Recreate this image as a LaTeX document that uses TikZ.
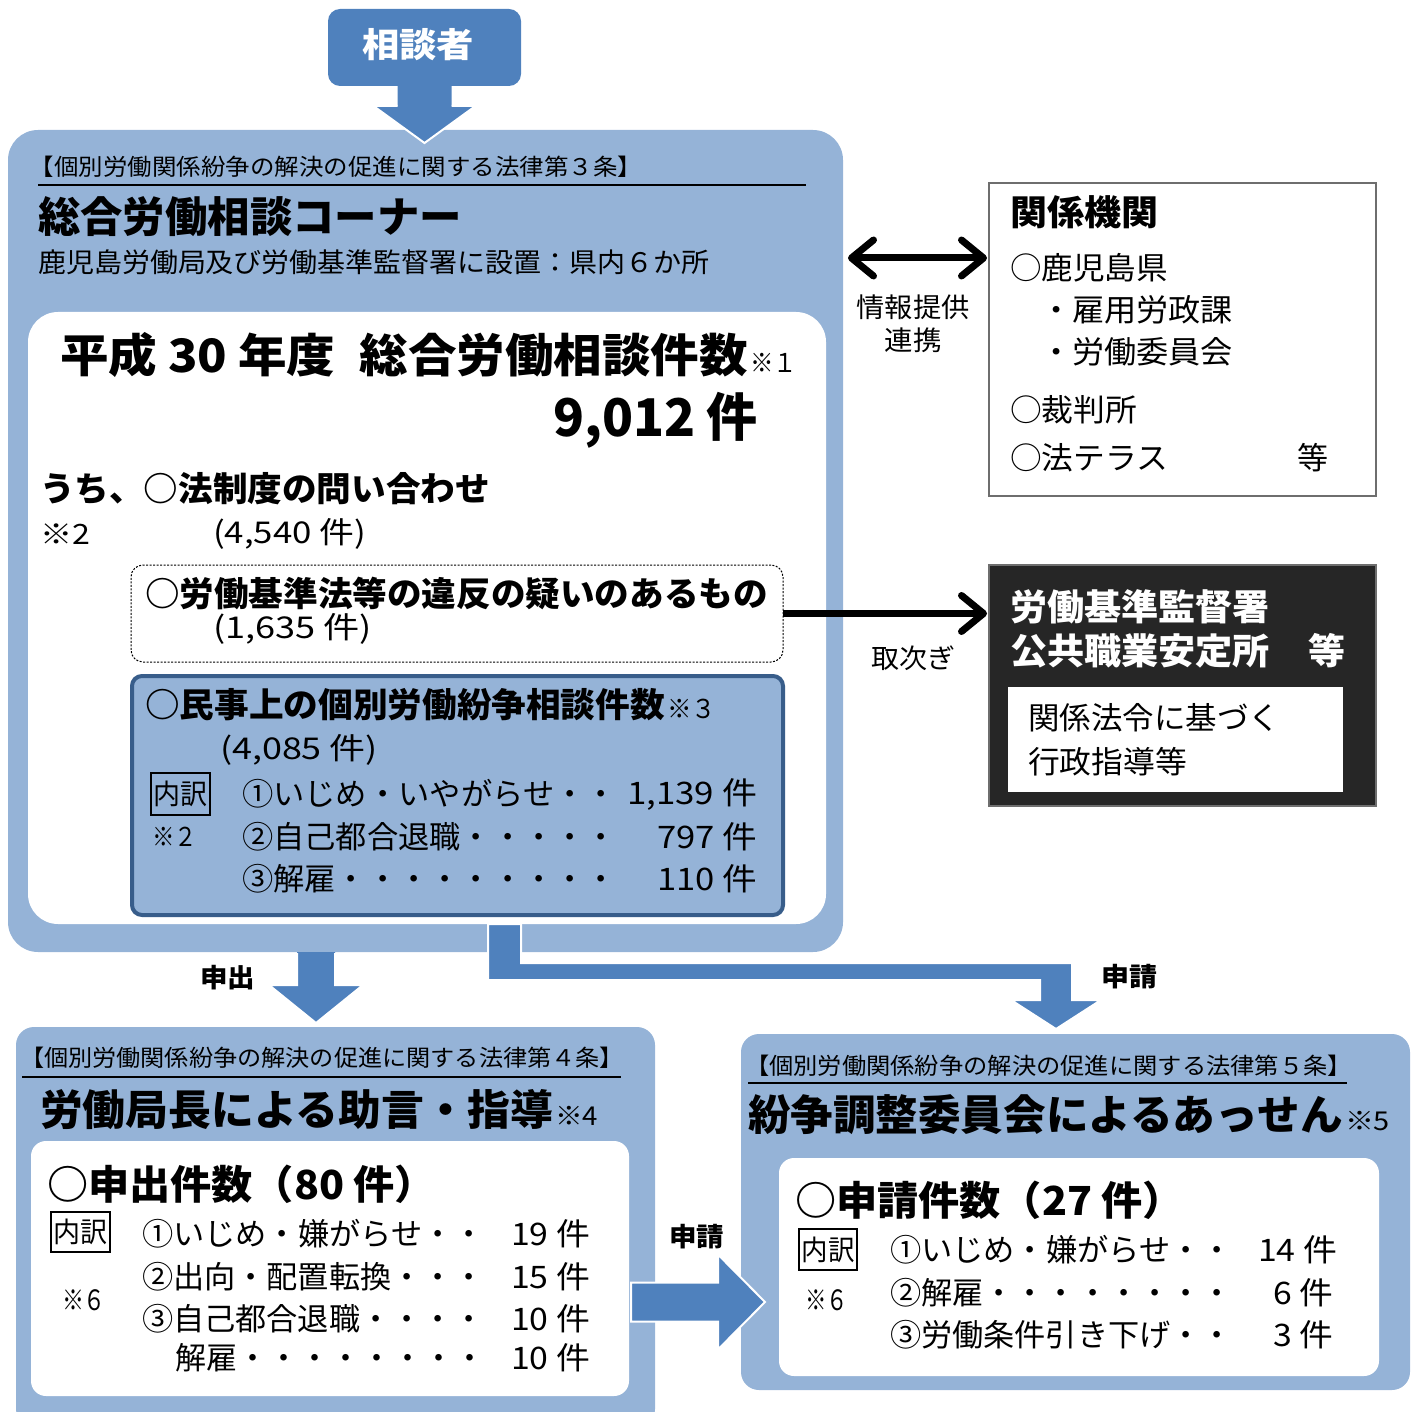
\documentclass[tikz,border=0pt]{standalone}
\usepackage{fontspec}
\setmainfont{Noto Sans CJK JP}
\usepackage{graphicx}
\usetikzlibrary{arrows.meta,calc}
\definecolor{lb}{RGB}{149,179,215}
\definecolor{db}{RGB}{79,129,189}
\definecolor{bb}{RGB}{56,93,138}
\definecolor{dk}{RGB}{38,38,38}
\definecolor{gr}{RGB}{110,110,110}
\newcommand\fs[1]{\fontsize{#1}{#1}\selectfont}
\newcommand\fw[2]{\resizebox{#1pt}{\height}{#2}}
\tikzset{barbtip/.tip={Straight Barb[length=22pt,width=36pt,line width=7pt,round]}}
\begin{document}
\begin{tikzpicture}[x=1pt,y=-1pt,
  t/.style={inner sep=0pt,outer sep=0pt,anchor=west},
  te/.style={inner sep=0pt,outer sep=0pt,anchor=east},
  tc/.style={inner sep=0pt,outer sep=0pt},
  panel/.style={fill=lb,rounded corners=#1,inner sep=0pt,outer sep=0pt},
  wpanel/.style={fill=white,rounded corners=#1,inner sep=0pt,outer sep=0pt},
  ubox/.style={draw=black,line width=2pt,inner sep=0pt,outer sep=0pt},
  uline/.style={line width=2pt,black},
  barrow/.style={fill=db},
  wedge/.style={draw=white,line width=2pt,line join=miter},
  blackarrow/.style={line width=7pt,black}
]
\useasboundingbox (0,0) rectangle (1418,1412);

% ---------- panels ----------
\node[fill=db,rounded corners=12pt,inner sep=0pt,outer sep=0pt,minimum width=193pt,minimum height=77pt] (sodan) at (424.5,47.5) {};
\node[panel=30pt,minimum width=835pt,minimum height=822pt] (box1) at (425.5,541) {};
\node[wpanel=30pt,minimum width=798pt,minimum height=612pt] (inner1) at (427,618) {};
\node[draw=black,line width=1pt,dash pattern=on 2pt off 1.5pt,fill=white,rounded corners=12pt,inner sep=0pt,outer sep=0pt,minimum width=652pt,minimum height=97pt] (dot) at (457,613.5) {};
\node[fill=lb,draw=bb,line width=4pt,rounded corners=10pt,inner sep=0pt,outer sep=0pt,minimum width=651pt,minimum height=239pt] (civil) at (457.5,795.5) {};
\node[ubox,minimum width=59pt,minimum height=42pt] (uw1) at (180.5,794) {\fs{28}\fw{54}{内訳}};

\node[draw=gr,line width=1.5pt,fill=white,inner sep=0pt,outer sep=0pt,minimum width=387pt,minimum height=313pt] (rel) at (1182.5,339.5) {};
\node[draw=gr,line width=1.5pt,fill=dk,inner sep=0pt,outer sep=0pt,minimum width=387pt,minimum height=241pt] (dark) at (1182.5,685.5) {};
\node[fill=white,inner sep=0pt,outer sep=0pt,minimum width=335pt,minimum height=105pt] (darkin) at (1175.5,739.5) {};

\node[panel=18pt,minimum width=639pt,minimum height=400pt] (box2) at (335.5,1227) {};
\node[wpanel=15pt,minimum width=598pt,minimum height=255pt] (inner2) at (330,1268.5) {};
\node[ubox,minimum width=59pt,minimum height=40pt] (uw2) at (80.5,1232) {\fs{28}\fw{54}{内訳}};

\node[panel=18pt,minimum width=669pt,minimum height=356pt] (box3) at (1075.5,1212) {};
\node[wpanel=15pt,minimum width=600pt,minimum height=218pt] (inner3) at (1079,1267) {};
\node[ubox,minimum width=58pt,minimum height=41pt] (uw3) at (828,1249.5) {\fs{28}\fw{53}{内訳}};

% ---------- block arrows ----------
\coordinate (Ss) at (sodan.south);
\fill[barrow] ($(Ss)+(-27,0)$) -- ($(Ss)+(27,0)$) -- ($(Ss)+(27,20)$) -- ($(Ss)+(51,20)$) -- ($(Ss)+(0,57)$) -- ($(Ss)+(-51,20)$) -- ($(Ss)+(-27,20)$) -- cycle;
\draw[wedge] ($(Ss)+(27,20)$) -- ($(Ss)+(51,20)$) -- ($(Ss)+(0,57)$) -- ($(Ss)+(-51,20)$) -- ($(Ss)+(-27,20)$);

\coordinate (Ds) at ($(box1.south)+(-109.5,0)$);
\fill[barrow] ($(Ds)+(-19,0)$) -- ($(Ds)+(19,0)$) -- ($(Ds)+(19,33)$) -- ($(Ds)+(47,33)$) -- ($(Ds)+(0,71)$) -- ($(Ds)+(-47,33)$) -- ($(Ds)+(-19,33)$) -- cycle;
\draw[wedge] ($(Ds)+(19,1)$) -- ($(Ds)+(19,33)$) -- ($(Ds)+(47,33)$) -- ($(Ds)+(0,71)$) -- ($(Ds)+(-47,33)$) -- ($(Ds)+(-19,33)$) -- ($(Ds)+(-19,1)$);

\coordinate (Ls) at ($(inner1.south)+(77.5,0)$);
\coordinate (Le) at ($(box3.north)+(-19.5,-5)$);
\filldraw[barrow,wedge] ($(Ls)+(-16.5,0)$) -- ($(Ls)+(16.5,0)$) -- ($(Ls)+(16.5,39)$) -- ($(Le)+(16,-66)$) -- ($(Le)+(16,-29)$) -- ($(Le)+(45,-29)$) -- (Le) -- ($(Le)+(-45,-29)$) -- ($(Le)+(-16,-29)$) -- ($(Le)+(-16,-49)$) -- ($(Ls)+(-16.5,56)$) -- cycle;

\coordinate (Hs) at ($(inner2.east |- 0,1302)+(2,0)$);
\coordinate (He) at ($(box3.west |- Hs)+(24,0)$);
\filldraw[barrow,wedge] ($(Hs)+(0,-19.5)$) -- ($(He)+(-47,-19.5)$) -- ($(He)+(-47,-47.5)$) -- (He) -- ($(He)+(-47,47.5)$) -- ($(He)+(-47,19.5)$) -- ($(Hs)+(0,19.5)$) -- cycle;

% ---------- line arrows ----------
\coordinate (ya) at (0,258);
\draw[blackarrow,barbtip-barbtip] ($(box1.east |- ya)+(5,0)$) -- ($(rel.west |- ya)+(-2,0)$);
\draw[blackarrow,-barbtip] (dot.east) -- ($(dark.west |- dot.east)+(-2,0)$);

% ---------- texts ----------
\node[tc,text=white] (sodanT) at (418,45) {\fs{34}\bfseries\fw{112}{相談者}};

\node[t] (law3) at (30,167) {\fs{23}\fw{612}{【個別労働関係紛争の解決の促進に関する法律第３条】}};
\draw[uline] (38,185) -- (806,185);
\node[t] (cornerT) at (38,217) {\fs{42}\bfseries\fw{424}{総合労働相談コーナー}};
\node[t] (setchi) at (38,262) {\fs{27}\fw{672}{鹿児島労働局及び労働基準監督署に設置：県内６か所}};
\node[t] (year) at (60,355) {\fs{46}\bfseries\fw{688}{平成 30 年度\hspace{0.5em}総合労働相談件数}};
\node[t] (note1) at (750,363) {\fs{26}\fw{47}{※１}};
\node[te] (total) at (758,420) {\fs{52}\bfseries\fw{205}{9,012 件}};
\node[t] (uchi) at (40,489) {\fs{34}\bfseries\fw{450}{うち、○法制度の問い合わせ}};
\node[t] (note2a) at (40,534) {\fs{28}\fw{50}{※2}};
\node[t] (c4540) at (213,534) {\fs{30}\fw{153}{(4,540 件)}};
\node[t] (ihan) at (145,593) {\fs{34}\bfseries\fw{623}{○労働基準法等の違反の疑いのあるもの}};
\node[t] (c1635) at (213,629) {\fs{30}\fw{159}{(1,635 件)}};
\node[t] (minji) at (145,705) {\fs{34}\bfseries\fw{520}{○民事上の個別労働紛争相談件数}};
\node[t] (note3) at (667,709) {\fs{26}\fw{49}{※３}};
\node[t] (c4085) at (220,750) {\fs{30}\fw{158}{(4,085 件)}};
\node[t] (note2b) at (152,837) {\fs{26}\fw{45}{※２}};
\node[t] (m1) at (242,794) {\fs{31}\fw{375}{①いじめ・いやがらせ・・}};
\node[te] (m1n) at (757,794) {\fs{31}\fw{130}{1,139 件}};
\node[t] (m2) at (242,837) {\fs{31}\fw{375}{②自己都合退職・・・・・}};
\node[te] (m2n) at (757,837) {\fs{31}\fw{100}{797 件}};
\node[t] (m3) at (242,879) {\fs{31}\fw{375}{③解雇・・・・・・・・・}};
\node[te] (m3n) at (757,879) {\fs{31}\fw{100}{110 件}};

\node[t] (relT) at (1010,212) {\fs{35}\bfseries\fw{148}{関係機関}};
\node[t] (r1) at (1010,268) {\fs{31}\fw{158}{○鹿児島県}};
\node[t] (r2) at (1040,310) {\fs{31}\fw{193}{・雇用労政課}};
\node[t] (r3) at (1040,352) {\fs{31}\fw{193}{・労働委員会}};
\node[t] (r4) at (1010,410) {\fs{31}\fw{127}{○裁判所}};
\node[t] (r5) at (1010,458) {\fs{31}\fw{158}{○法テラス}};
\node[t] (r6) at (1297,458) {\fs{31}\fw{31}{等}};
\node[tc] (info1) at (913,307) {\fs{27}\fw{113}{情報提供}};
\node[tc] (info2) at (913,340) {\fs{27}\fw{57}{連携}};
\node[tc] (toritsugi) at (913,658) {\fs{27}\fw{84}{取次ぎ}};

\node[t,text=white] (d1) at (1010,607) {\fs{36}\bfseries\fw{260}{労働基準監督署}};
\node[t,text=white] (d2) at (1010,651) {\fs{36}\bfseries\fw{260}{公共職業安定所}};
\node[t,text=white] (d3) at (1308,651) {\fs{36}\bfseries\fw{37}{等}};
\node[t] (d4) at (1028,718) {\fs{31}\fw{252}{関係法令に基づく}};
\node[t] (d5) at (1028,762) {\fs{31}\fw{159}{行政指導等}};

\node[t] (moushide) at (200,978) {\fs{26}\bfseries\fw{55}{申出}};
\node[t] (shinsei1) at (1101,977) {\fs{26}\bfseries\fw{56}{申請}};
\node[t] (shinsei2) at (669,1237) {\fs{26}\bfseries\fw{55}{申請}};

\node[t] (law4) at (20,1058) {\fs{23}\fw{604}{【個別労働関係紛争の解決の促進に関する法律第４条】}};
\draw[uline] (22,1077) -- (621,1077);
\node[t] (jogen) at (40,1110) {\fs{42}\bfseries\fw{513}{労働局長による助言・指導}};
\node[t] (note4) at (555,1116) {\fs{26}\fw{43}{※4}};
\node[t] (mo) at (47,1184) {\fs{40}\bfseries\fw{389}{○申出件数（80 件）}};
\node[t] (note6a) at (62,1300) {\fs{28}\fw{44}{※６}};
\node[t] (a1) at (142,1234) {\fs{31}\fw{343}{①いじめ・嫌がらせ・・}};
\node[te] (a1n) at (590,1234) {\fs{31}\fw{79}{19 件}};
\node[t] (a2) at (142,1277) {\fs{31}\fw{343}{②出向・配置転換・・・}};
\node[te] (a2n) at (590,1277) {\fs{31}\fw{79}{15 件}};
\node[t] (a3) at (142,1319) {\fs{31}\fw{343}{③自己都合退職・・・・}};
\node[te] (a3n) at (590,1319) {\fs{31}\fw{79}{10 件}};
\node[t] (a4) at (175,1358) {\fs{31}\fw{310}{解雇・・・・・・・・}};
\node[te] (a4n) at (590,1358) {\fs{31}\fw{79}{10 件}};

\node[t] (law5) at (745,1066) {\fs{23}\fw{607}{【個別労働関係紛争の解決の促進に関する法律第５条】}};
\draw[uline] (748,1083) -- (1347,1083);
\node[t] (assen) at (748,1115) {\fs{42}\bfseries\fw{595}{紛争調整委員会によるあっせん}};
\node[t] (note5) at (1345,1121) {\fs{26}\fw{45}{※5}};
\node[t] (sh) at (795,1200) {\fs{40}\bfseries\fw{389}{○申請件数（27 件）}};
\node[t] (note6b) at (805,1300) {\fs{28}\fw{43}{※６}};
\node[t] (b1) at (890,1250) {\fs{31}\fw{343}{①いじめ・嫌がらせ・・}};
\node[te] (b1n) at (1337,1250) {\fs{31}\fw{79}{14 件}};
\node[t] (b2) at (890,1293) {\fs{31}\fw{343}{②解雇・・・・・・・・}};
\node[te] (b2n) at (1333,1293) {\fs{31}\fw{60}{6 件}};
\node[t] (b3) at (890,1335) {\fs{31}\fw{343}{③労働条件引き下げ・・}};
\node[te] (b3n) at (1333,1335) {\fs{31}\fw{60}{3 件}};
\end{tikzpicture}
\end{document}
